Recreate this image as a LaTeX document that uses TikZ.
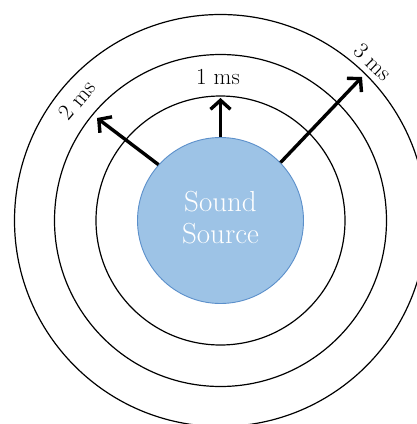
\documentclass[tikz,border=0pt]{standalone}
\usepackage{fontspec}
\setmainfont{Latin Modern Roman}
\usetikzlibrary{arrows.meta}
\definecolor{srcfill}{HTML}{9DC3E6}
\definecolor{srcedge}{HTML}{5B8FCA}
\begin{document}
\begin{tikzpicture}[x=1pt,y=-1pt,
  ring/.style={draw=black,line width=1.2pt},
  wave/.style={line width=3.4pt,-{Straight Barb[length=9pt,width=20pt,line width=3.4pt]}},
  lbl/.style={font=\fontsize{23}{27}\selectfont,inner sep=0pt}]
  \useasboundingbox (0,0) rectangle (417,424);
  \clip (0,0) rectangle (417,424);
  % wave fronts
  \draw[ring] (220.5,220.5) circle (124.5);
  \draw[ring] (220.5,220.5) circle (166);
  \draw[ring] (220.5,220.5) circle (206);
  % the source
  \node[circle,draw=srcedge,line width=0.9pt,fill=srcfill,minimum size=166pt,inner sep=0pt,
        text=white,font=\fontsize{29}{33}\selectfont,align=center] (src) at (220.5,220.5)
        {\raisebox{-2pt}{\begin{tabular}{@{}c@{}}Sound\\[-1pt]Source\end{tabular}}};
  % arrow tips on the fronts
  \coordinate (t1) at (220.5,98);
  \coordinate (t2) at (97,118);
  \coordinate (t3) at (362,77);
  \draw[wave] (src.90) -- (t1);
  \draw[wave] (src.138) -- (t2);
  \draw[wave] (src.44) -- (t3);
  % labels
  \node[lbl] (l1) at (218,77) {1 ms};
  \node[lbl,rotate=50] (l2) at (77,100) {2 ms};
  \node[lbl,rotate=-44] (l3) at (373,62) {3 ms};
\end{tikzpicture}
\end{document}
